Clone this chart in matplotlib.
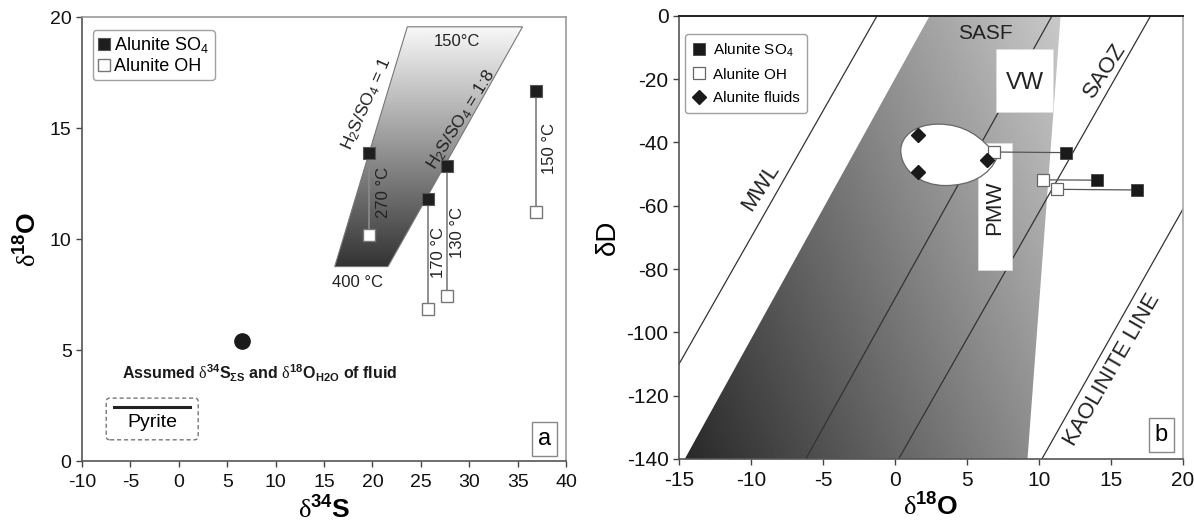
import numpy as np
import matplotlib
matplotlib.use("Agg")
import matplotlib.pyplot as plt
from matplotlib.patches import Polygon, FancyBboxPatch, PathPatch
from matplotlib.path import Path
from matplotlib.lines import Line2D

plt.rcParams['font.family'] = ['Liberation Sans', 'DejaVu Sans']
plt.rcParams['axes.unicode_minus'] = False
plt.rcParams['mathtext.fontset'] = 'custom'
plt.rcParams['mathtext.rm'] = 'Liberation Serif'
plt.rcParams['mathtext.bf'] = 'Liberation Sans:bold'
plt.rcParams['mathtext.sf'] = 'Liberation Sans'
plt.rcParams['mathtext.it'] = 'Liberation Sans:italic'

# ---------------- Panel a data ----------------
a_s34_so4 = [19.6, 25.7, 27.7, 36.9]
a_o18_so4 = [13.9, 11.8, 13.3, 16.7]
a_s34_oh = [19.6, 25.7, 27.7, 36.9]
a_o18_oh = [10.2, 6.85, 7.45, 11.25]
a_temp_labels = ["270 °C", "170 °C", "130 °C", "150 °C"]
fluid_s34 = [6.5]
fluid_o18 = [5.4]
field_x = [16.1, 21.6, 35.5, 23.6]
field_y = [8.77, 8.77, 19.58, 19.58]

# ---------------- Panel b data ----------------
b_o18_so4 = [11.9, 14.0, 16.8]
b_dD_so4 = [-43.2, -51.9, -55.0]
b_o18_oh = [6.85, 10.3, 11.25]
b_dD_oh = [-43.0, -51.8, -54.8]
b_o18_fluid = [1.6, 1.6, 6.4]
b_dD_fluid = [-37.7, -49.3, -45.6]
mwl_x = [-15.0, -1.25]
mwl_y = [-110.0, 0.0]
lineA_x = [-6.2, 10.9]
lineA_y = [-140.0, 0.0]
saoz_x = [0.25, 17.75]
saoz_y = [-140.0, 0.0]
kaol_x = [10.2, 20.0]
kaol_y = [-140.0, -61.0]
sasf_x = [-14.6, 9.2, 11.5, 2.4]
sasf_y = [-140.0, -140.0, 0.0, 0.0]
vw_box = (7.0, -30.3, 4.0, 19.7)     # x, y, w, h
pmw_box = (5.75, -80.3, 2.4, 40.0)

fig = plt.figure(figsize=(11.94, 5.30), dpi=100)
axa = fig.add_axes([0.0687, 0.130, 0.4054, 0.837])
axb = fig.add_axes([0.5687, 0.134, 0.4221, 0.836])

# ================= Panel a =================
ax = axa
ax.set_xlim(-10, 40)
ax.set_ylim(0, 20)
poly = Polygon(list(zip(field_x, field_y)), closed=True, facecolor='none',
               edgecolor='#777777', lw=0.8, zorder=2)
ax.add_patch(poly)
grad = np.linspace(0.2, 0.97, 256).reshape(-1, 1)
im = ax.imshow(grad, extent=[min(field_x), max(field_x), min(field_y), max(field_y)],
               origin='lower', cmap='gray', vmin=0, vmax=1, aspect='auto', zorder=1)
im.set_clip_path(poly)

for xs, ys, xo, yo in zip(a_s34_so4, a_o18_so4, a_s34_oh, a_o18_oh):
    ax.plot([xs, xo], [ys, yo], color='#888888', lw=1.3, zorder=3)
h_so4, = ax.plot(a_s34_so4, a_o18_so4, 's', ms=9, mfc='#1e1e1e', mec='#555555',
                 mew=0.8, ls='none', zorder=4, label='Alunite SO$_{\\mathsf{4}}$')
h_oh, = ax.plot(a_s34_oh, a_o18_oh, 's', ms=9, mfc='white', mec='#777777',
                mew=1.0, ls='none', zorder=4, label='Alunite OH')
ax.plot(fluid_s34, fluid_o18, 'o', ms=11, color='#1a1a1a', zorder=4)

lab_pos = [(21.1, 12.1), (26.8, 9.4), (28.8, 10.3), (38.3, 14.1)]
for (x, y), t in zip(lab_pos, a_temp_labels):
    ax.text(x, y, t, rotation=90, ha='center', va='center', fontsize=12, color='#222222')
ax.text(28.7, 18.9, "150°C", ha='center', va='center', fontsize=12, color='#222222')
ax.text(18.5, 8.04, "400 °C", ha='center', va='center', fontsize=12, color='#222222')
ax.text(19.4, 16.1, r'H$_{\mathsf{2}}$S/SO$_{\mathsf{4}}$ = 1', rotation=66,
        ha='center', va='center', fontsize=12.5, color='#222222')
ax.text(29.2, 15.4, r'H$_{\mathsf{2}}$S/SO$_{\mathsf{4}}$ = 1:8', rotation=58,
        ha='center', va='center', fontsize=12.5, color='#222222')
ax.text(8.3, 3.97,
        r'Assumed $\mathrm{\delta}^{\mathbf{34}}\mathbf{S}_{\mathbf{\Sigma S}}$ and '
        r'$\mathrm{\delta}^{\mathbf{18}}\mathbf{O}_{\mathbf{H2O}}$ of fluid',
        ha='center', va='center', fontsize=11.5, fontweight='bold', color='#1a1a1a')

# Pyrite legend box
pb = FancyBboxPatch((0.05, 0.048), 0.19, 0.094, boxstyle='round,pad=0,rounding_size=0.008',
                    transform=ax.transAxes, facecolor='white', edgecolor='#777777',
                    ls=(0, (3, 2)), lw=1.0, zorder=3)
ax.add_patch(pb)
ax.add_line(Line2D([0.067, 0.223], [0.122, 0.122], transform=ax.transAxes,
                   color='#222222', lw=2.2, zorder=4))
ax.text(0.145, 0.086, 'Pyrite', transform=ax.transAxes, ha='center', va='center',
        fontsize=14, zorder=4)

ax.text(0.955, 0.05, 'a', transform=ax.transAxes, ha='center', va='center', fontsize=17,
        bbox=dict(boxstyle='square,pad=0.25', fc='white', ec='#888888', lw=1.0))

leg = ax.legend(handles=[h_so4, h_oh], loc='upper left', bbox_to_anchor=(0.022, 0.972),
                borderaxespad=0, fontsize=13, handlelength=0.6, handletextpad=0.3,
                borderpad=0.3, labelspacing=0.15, fancybox=True, frameon=True)
leg.get_frame().set_edgecolor('#888888')
leg.get_frame().set_linewidth(1.0)

ax.set_xticks(np.arange(-10, 41, 5))
ax.set_yticks(np.arange(0, 21, 5))
ax.tick_params(direction='out', length=4, width=1, colors='#444444', labelsize=14,
               labelcolor='#111111')
ax.tick_params(axis='x', pad=5)
for s in ['left', 'bottom']:
    ax.spines[s].set_color('#555555')
    ax.spines[s].set_linewidth(1.2)
for s in ['top', 'right']:
    ax.spines[s].set_color('#999999')
    ax.spines[s].set_linewidth(1.2)
ax.set_xlabel(r'$\mathrm{\delta}^{\mathbf{34}}\mathbf{S}$', fontsize=19, labelpad=4)
ax.set_ylabel(r'$\mathrm{\delta}^{\mathbf{18}}\mathbf{O}$', fontsize=19, labelpad=6)

# ================= Panel b =================
ax = axb
ax.set_xlim(-15, 20)
ax.set_ylim(-140, 0)
spoly = Polygon(list(zip(sasf_x, sasf_y)), closed=True, facecolor='none', edgecolor='none', zorder=1)
ax.add_patch(spoly)
gx, gy = np.meshgrid(np.linspace(-15, 20, 400), np.linspace(-140, 0, 400))
gval = 0.16 + 0.016 * (gx + 14.6) + 0.0015 * (gy + 140)
gval = np.clip(gval, 0, 1)
im2 = ax.imshow(gval, extent=[-15, 20, -140, 0], origin='lower', cmap='gray',
                vmin=0, vmax=1, aspect='auto', zorder=1)
im2.set_clip_path(spoly)

for lx, ly in [(mwl_x, mwl_y), (lineA_x, lineA_y), (saoz_x, saoz_y), (kaol_x, kaol_y)]:
    ax.plot(lx, ly, color='#333333', lw=0.9, zorder=2)

for bx in [vw_box, pmw_box]:
    ax.add_patch(plt.Rectangle(bx[:2], bx[2], bx[3], facecolor='white',
                               edgecolor='#dddddd', lw=0.6, zorder=3))

verts = [(7.1, -44.5), (6.0, -38.0), (4.8, -34.2), (3.0, -34.2),
         (1.4, -34.2), (0.4, -38.0), (0.4, -42.5),
         (0.4, -48.5), (1.7, -53.6), (3.5, -53.6),
         (5.2, -53.6), (6.6, -50.5), (7.1, -44.5)]
codes = [Path.MOVETO] + [Path.CURVE4] * 12
ax.add_patch(PathPatch(Path(verts, codes), facecolor='white', edgecolor='#666666',
                       lw=0.9, zorder=3))

for xo, yo, xs, ys in zip(b_o18_oh, b_dD_oh, b_o18_so4, b_dD_so4):
    ax.plot([xo, xs], [yo, ys], color='#555555', lw=0.9, zorder=4)
hb_so4, = ax.plot(b_o18_so4, b_dD_so4, 's', ms=8, mfc='#1a1a1a', mec='#444444', mew=0.6,
                  ls='none', zorder=5, label='Alunite SO$_{\\mathsf{4}}$')
hb_oh, = ax.plot(b_o18_oh, b_dD_oh, 's', ms=8, mfc='white', mec='#666666', mew=0.9,
                 ls='none', zorder=5, label='Alunite OH')
hb_fl, = ax.plot(b_o18_fluid, b_dD_fluid, 'D', ms=7, mfc='#1a1a1a', mec='#1a1a1a',
                 ls='none', zorder=5, label='Alunite fluids')

ax.text(-9.3, -54, 'MWL', rotation=57, ha='center', va='center', fontsize=16, color='#222222')
ax.text(6.3, -5.6, 'SASF', ha='center', va='center', fontsize=15, color='#222222')
ax.text(14.55, -17.2, 'SAOZ', rotation=57, ha='center', va='center', fontsize=16, color='#222222')
ax.text(15.1, -111.7, 'KAOLINITE LINE', rotation=60, ha='center', va='center', fontsize=16,
        color='#222222')
ax.text(9.0, -21.2, 'VW', ha='center', va='center', fontsize=17, color='#222222', zorder=6)
ax.text(6.95, -60.5, 'PMW', rotation=90, ha='center', va='center', fontsize=16,
        color='#222222', zorder=6)

ax.text(18.5, -132.5, 'b', ha='center', va='center', fontsize=17,
        bbox=dict(boxstyle='square,pad=0.25', fc='white', ec='#888888', lw=1.0), zorder=6)

legb = ax.legend(handles=[hb_so4, hb_oh, hb_fl], loc='upper left',
                 bbox_to_anchor=(0.012, 0.96), borderaxespad=0, fontsize=11,
                 handlelength=0.8, handletextpad=0.5, borderpad=0.5, labelspacing=0.6,
                 fancybox=True, frameon=True)
legb.get_frame().set_edgecolor('#888888')
legb.get_frame().set_linewidth(1.0)
legb.set_zorder(7)

ax.set_xticks(np.arange(-15, 21, 5))
ax.set_yticks(np.arange(-140, 1, 20))
ax.tick_params(direction='out', length=4, width=1, colors='#444444', labelsize=15,
               labelcolor='#111111')
ax.tick_params(axis='x', pad=5)
for s in ['left', 'bottom']:
    ax.spines[s].set_color('#555555')
    ax.spines[s].set_linewidth(1.2)
ax.spines['top'].set_color('#222222')
ax.spines['top'].set_linewidth(1.4)
ax.spines['right'].set_color('#aaaaaa')
ax.spines['right'].set_linewidth(1.2)
ax.set_xlabel(r'$\mathrm{\delta}^{\mathbf{18}}\mathbf{O}$', fontsize=19, labelpad=2)
ax.set_ylabel('δD', fontsize=20, labelpad=4)

fig.savefig('out.png', dpi=100)
